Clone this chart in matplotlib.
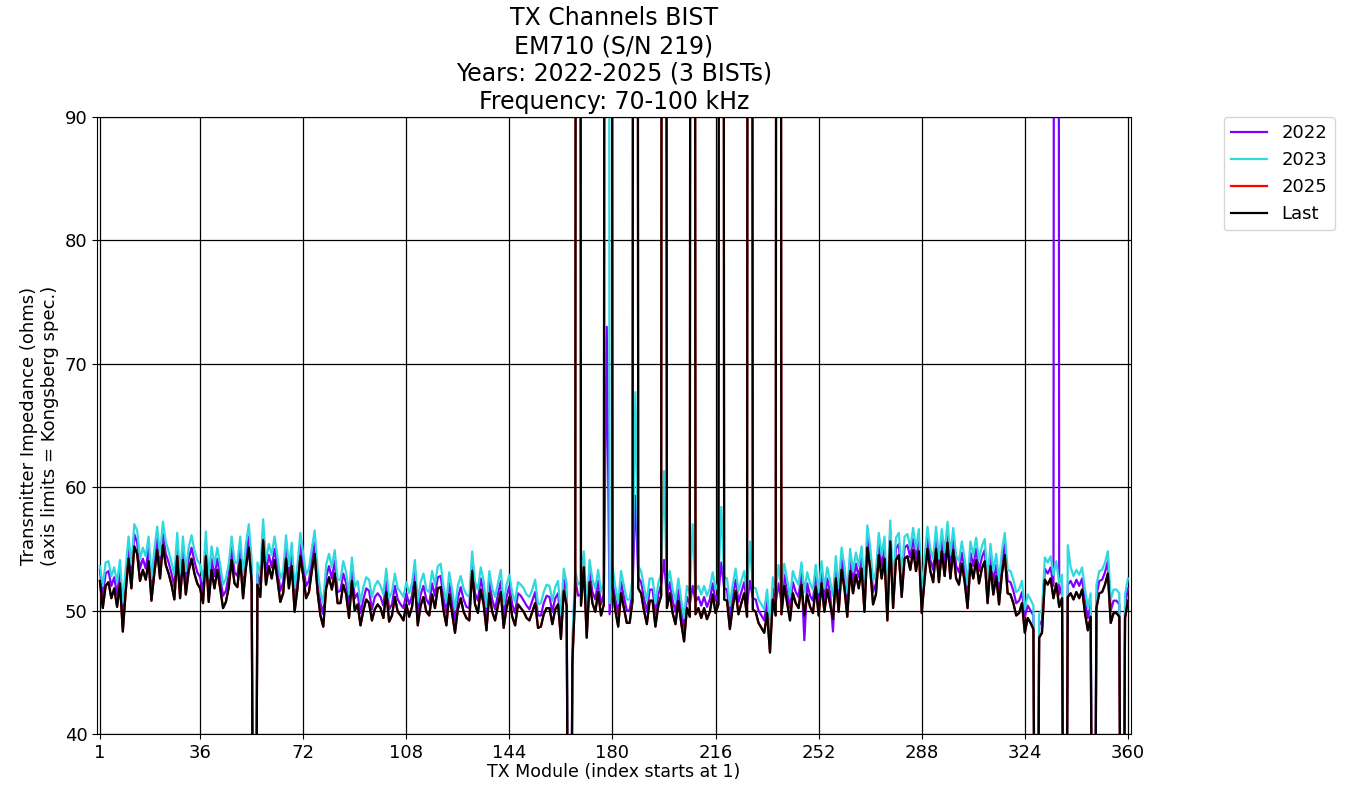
import numpy as np
import matplotlib
matplotlib.use("Agg")
import matplotlib.pyplot as plt

##! Data (ohms), modules 1..360
# 2025 BIST == "Last" (red trace sits under the black one)
y2025 = [
    52.4, 50.2, 52.0, 52.3, 51.0, 51.8, 50.3, 52.2, 48.3, 51.5,
    54.2, 51.8, 55.2, 54.6, 52.4, 53.3, 52.5, 54.0, 50.8, 53.0,
    54.9, 52.6, 55.3, 53.7, 53.0, 52.1, 50.9, 54.4, 51.0, 54.1,
    51.3, 53.2, 54.2, 53.0, 52.2, 51.8, 50.6, 54.4, 50.7, 53.3,
    51.8, 53.3, 51.8, 50.2, 50.7, 51.9, 54.1, 52.2, 51.9, 54.1,
    51.0, 53.5, 55.1, 52.3, 0.0, 52.1, 51.1, 55.7, 52.1, 53.6,
    52.6, 54.1, 52.5, 50.7, 51.4, 54.2, 51.8, 53.6, 49.9, 51.8,
    54.4, 52.8, 51.0, 51.5, 53.2, 54.6, 51.5, 49.6, 48.7, 51.8,
    52.7, 51.7, 53.0, 50.6, 50.6, 52.1, 51.3, 49.4, 52.4, 50.0,
    50.5, 48.8, 50.0, 50.9, 50.6, 49.2, 50.1, 50.5, 50.2, 49.4,
    51.5, 49.1, 49.6, 51.1, 49.9, 49.6, 49.2, 50.5, 49.5, 50.3,
    52.3, 48.8, 50.4, 51.1, 49.9, 49.6, 51.3, 50.2, 51.8, 51.9,
    50.0, 48.8, 51.3, 49.8, 48.2, 50.1, 51.0, 49.9, 49.4, 49.2,
    53.2, 50.5, 49.8, 51.7, 50.5, 48.4, 51.4, 49.9, 49.2, 50.4,
    51.5, 48.6, 50.2, 51.1, 49.5, 48.8, 50.5, 50.2, 49.9, 49.4,
    49.2, 49.9, 50.6, 48.6, 48.7, 49.7, 50.2, 50.2, 48.9, 50.1,
    50.5, 47.7, 51.6, 50.4, 0.0, 45.8, 51.6, 400.0, 50.4, 53.5,
    47.8, 52.3, 50.6, 49.9, 51.5, 49.6, 50.5, 400.0, 400.0, 51.8,
    50.0, 48.7, 51.4, 50.2, 49.0, 49.0, 50.8, 400.0, 51.8, 51.4,
    50.0, 48.9, 50.8, 50.8, 48.7, 50.4, 51.2, 400.0, 50.2, 51.4,
    49.8, 48.9, 50.8, 49.0, 47.5, 50.2, 49.5, 400.0, 49.7, 50.2,
    49.4, 50.2, 49.3, 49.9, 51.3, 49.8, 50.5, 400.0, 50.9, 50.8,
    48.5, 50.3, 51.6, 49.7, 50.6, 51.4, 49.5, 400.0, 50.1, 49.9,
    49.0, 48.6, 48.2, 49.8, 46.6, 50.9, 49.6, 400.0, 49.7, 52.0,
    50.6, 49.2, 51.4, 50.6, 50.2, 52.1, 49.6, 51.3, 50.3, 49.8,
    51.9, 49.6, 52.2, 49.9, 51.7, 50.5, 49.3, 52.6, 49.9, 53.3,
    51.8, 49.5, 53.2, 51.4, 52.9, 51.8, 53.4, 49.9, 55.1, 53.4,
    50.5, 51.3, 54.5, 52.6, 54.2, 49.2, 55.6, 50.2, 54.1, 54.5,
    51.1, 54.2, 54.4, 53.3, 54.9, 53.2, 54.8, 49.8, 52.5, 55.0,
    53.2, 52.3, 55.0, 52.3, 54.8, 52.8, 55.5, 52.6, 54.9, 52.6,
    52.1, 53.8, 52.3, 50.2, 53.8, 52.6, 54.1, 52.2, 53.4, 54.0,
    50.6, 53.6, 51.3, 52.8, 50.5, 53.0, 54.5, 51.4, 51.3, 50.6,
    49.6, 49.8, 50.6, 48.2, 49.4, 49.0, 48.5, 0.0, 47.8, 48.2,
    52.5, 52.1, 52.6, 51.0, 52.2, 50.3, 51.0, 0.0, 51.1, 51.4,
    50.9, 51.5, 51.0, 51.7, 49.8, 48.4, 49.5, 0.0, 50.2, 51.4,
    51.5, 52.1, 53.0, 49.0, 49.8, 49.8, 49.5, 0.0, 49.4, 50.8,
]

y2023 = [
    53.6, 52.0, 53.9, 54.0, 52.8, 53.5, 52.3, 54.1, 50.6, 53.4,
    56.0, 53.7, 57.0, 56.5, 54.2, 55.1, 54.4, 56.0, 52.6, 54.9,
    56.8, 54.5, 57.2, 55.6, 54.8, 53.9, 52.9, 56.3, 52.9, 56.0,
    53.2, 55.1, 56.1, 54.9, 54.1, 53.7, 52.5, 56.4, 52.6, 55.2,
    53.7, 55.1, 53.7, 52.1, 52.6, 53.8, 56.0, 54.0, 53.8, 56.0,
    52.9, 55.4, 57.0, 54.1, 0.0, 53.9, 53.0, 57.4, 54.0, 55.4,
    54.5, 56.0, 54.4, 52.6, 53.2, 56.1, 53.6, 55.5, 51.8, 53.7,
    56.3, 54.6, 52.9, 53.4, 55.0, 56.5, 53.4, 51.5, 50.6, 53.7,
    54.6, 53.5, 54.9, 52.5, 52.5, 54.0, 53.1, 51.3, 54.3, 51.9,
    52.4, 50.7, 51.9, 52.7, 52.5, 51.1, 52.0, 52.4, 52.0, 51.3,
    53.4, 51.0, 51.5, 53.0, 51.8, 51.5, 51.1, 52.3, 51.4, 52.2,
    54.1, 50.7, 52.3, 53.0, 51.7, 51.5, 53.2, 52.1, 53.6, 53.8,
    51.9, 50.7, 53.1, 51.7, 50.1, 52.0, 52.8, 51.8, 51.3, 51.1,
    54.8, 52.3, 51.7, 53.5, 52.4, 50.3, 53.2, 51.8, 51.1, 52.2,
    53.3, 50.5, 52.1, 52.9, 51.4, 50.7, 52.3, 52.1, 51.8, 51.3,
    51.1, 51.7, 52.5, 50.5, 50.6, 51.5, 52.1, 52.0, 50.8, 51.9,
    52.4, 49.6, 53.4, 52.2, 0.0, 47.7, 53.3, 52.1, 52.3, 54.8,
    49.7, 54.1, 52.5, 51.8, 53.3, 51.5, 52.3, 400.0, 50.6, 53.6,
    51.9, 50.6, 53.2, 52.0, 50.9, 50.9, 52.6, 67.7, 53.6, 53.2,
    51.9, 50.8, 52.6, 52.6, 50.6, 52.2, 53.0, 61.3, 52.0, 53.2,
    51.7, 50.8, 52.6, 50.9, 49.4, 52.0, 51.4, 57.0, 51.6, 52.0,
    51.3, 52.0, 51.2, 51.8, 53.1, 51.7, 52.3, 58.4, 52.7, 52.6,
    50.4, 52.1, 53.4, 51.6, 52.4, 53.2, 51.4, 55.6, 51.9, 51.8,
    50.9, 50.5, 50.1, 51.7, 48.5, 52.7, 51.5, 53.7, 51.6, 53.8,
    52.5, 51.1, 53.2, 52.5, 52.1, 53.9, 51.5, 53.1, 52.2, 51.7,
    53.7, 51.5, 54.0, 51.8, 53.5, 52.4, 51.2, 54.4, 51.8, 55.1,
    53.6, 51.4, 55.0, 53.2, 54.7, 53.6, 55.2, 51.8, 56.9, 55.2,
    52.4, 53.2, 56.3, 54.5, 56.0, 51.1, 57.3, 52.1, 55.9, 56.3,
    53.0, 56.0, 56.2, 55.1, 56.7, 55.0, 56.6, 51.7, 54.3, 56.8,
    55.0, 54.2, 56.8, 54.2, 56.6, 54.7, 57.2, 54.5, 56.7, 54.5,
    54.0, 55.6, 54.2, 52.1, 55.6, 54.5, 55.9, 54.1, 55.2, 55.8,
    52.5, 55.4, 53.2, 54.6, 52.4, 54.8, 56.3, 53.3, 53.2, 52.5,
    51.5, 51.7, 52.4, 50.1, 51.3, 50.9, 50.4, 0.0, 49.7, 50.1,
    54.3, 53.9, 54.4, 52.9, 54.0, 52.2, 52.9, 0.0, 55.3, 53.5,
    52.8, 53.3, 52.9, 53.5, 51.7, 50.3, 51.4, 0.0, 52.1, 53.2,
    53.3, 53.9, 54.8, 50.9, 51.7, 51.7, 51.4, 0.0, 51.3, 52.6,
]

y2022 = [
    53.3, 51.2, 53.0, 53.2, 52.0, 52.7, 51.3, 53.1, 49.4, 52.5,
    55.2, 52.8, 56.2, 55.5, 53.4, 54.2, 53.4, 55.0, 51.8, 54.0,
    55.8, 53.5, 56.2, 54.6, 53.9, 53.0, 51.9, 55.3, 51.9, 55.0,
    52.2, 54.2, 55.1, 54.0, 53.1, 52.7, 51.5, 55.4, 51.6, 54.2,
    52.8, 54.2, 52.7, 51.2, 51.6, 52.9, 55.1, 53.1, 52.8, 55.0,
    52.0, 54.4, 56.0, 53.2, 0.0, 53.0, 52.1, 56.6, 53.1, 54.5,
    53.5, 55.0, 53.5, 51.6, 52.3, 55.1, 52.8, 54.5, 50.9, 52.8,
    55.3, 53.7, 52.0, 52.4, 54.1, 55.5, 52.4, 50.6, 49.7, 52.7,
    53.6, 52.6, 54.0, 51.5, 51.6, 53.0, 52.2, 50.4, 53.3, 51.0,
    51.4, 49.8, 50.9, 51.8, 51.6, 50.1, 51.1, 51.4, 51.1, 50.4,
    52.4, 50.1, 50.5, 52.0, 50.9, 50.5, 50.2, 51.4, 50.5, 51.2,
    53.2, 49.8, 51.3, 52.0, 50.9, 50.5, 52.2, 51.2, 52.7, 52.8,
    51.0, 49.8, 52.2, 50.8, 49.2, 51.0, 51.9, 50.9, 50.3, 50.2,
    54.0, 51.4, 50.8, 52.6, 51.4, 49.4, 52.3, 50.9, 50.1, 51.3,
    52.4, 49.6, 51.1, 52.0, 50.5, 49.8, 51.4, 51.2, 50.8, 50.4,
    50.1, 50.8, 51.5, 49.6, 49.6, 50.6, 51.2, 51.1, 49.9, 51.0,
    51.4, 48.7, 52.5, 51.3, 0.0, 46.8, 52.5, 51.2, 51.3, 54.4,
    48.8, 53.2, 51.5, 50.9, 52.4, 50.5, 51.4, 73.0, 49.7, 52.7,
    51.0, 49.7, 52.3, 51.1, 50.0, 50.0, 51.7, 59.3, 52.7, 52.3,
    51.0, 49.9, 51.7, 51.7, 49.7, 51.3, 52.1, 54.1, 51.1, 52.3,
    50.8, 49.9, 51.7, 50.0, 48.5, 51.1, 50.5, 52.0, 50.7, 51.1,
    50.4, 51.1, 50.3, 50.9, 52.2, 50.8, 51.4, 53.9, 51.8, 51.7,
    49.5, 51.2, 52.5, 50.7, 51.5, 52.3, 50.5, 52.4, 51.0, 50.9,
    50.0, 49.6, 49.2, 50.8, 47.6, 51.8, 50.6, 52.2, 50.7, 52.9,
    51.5, 50.2, 52.3, 51.5, 51.1, 53.0, 47.6, 52.2, 51.2, 50.8,
    52.8, 50.6, 53.1, 50.9, 52.6, 51.4, 48.3, 53.5, 50.9, 54.2,
    52.7, 50.5, 54.1, 52.3, 53.8, 52.7, 54.3, 50.9, 56.0, 54.3,
    51.5, 52.2, 55.4, 53.6, 55.1, 50.2, 56.5, 51.2, 55.0, 55.4,
    52.1, 55.1, 55.3, 54.3, 55.8, 54.2, 55.7, 50.8, 53.5, 55.9,
    54.1, 53.3, 55.9, 53.3, 55.7, 53.8, 56.4, 53.6, 55.8, 53.6,
    53.1, 54.7, 53.3, 51.2, 54.7, 53.6, 55.0, 53.2, 54.3, 54.9,
    51.6, 54.5, 52.3, 53.7, 51.5, 54.0, 55.4, 52.4, 52.3, 51.6,
    50.6, 50.8, 51.5, 49.5, 50.4, 50.0, 49.6, 0.0, 48.8, 49.2,
    53.4, 53.0, 53.5, 52.0, 400.0, 51.3, 52.0, 0.0, 52.1, 52.4,
    51.9, 52.5, 52.0, 52.6, 50.8, 49.4, 50.5, 0.0, 51.2, 52.4,
    52.5, 53.1, 54.0, 50.0, 50.8, 50.8, 50.5, 0.0, 50.4, 51.8,
]

yLast = y2025

series  = [y2022, y2023, y2025, yLast]
labels  = ['2022', '2023', '2025', 'Last']
colours = ['#8000ff', '#2fd8de', '#ff0000', 'k']

xticks = [1, 36, 72, 108, 144, 180, 216, 252, 288, 324, 360]
yticks = [40, 50, 60, 70, 80, 90]

for s in series:
    assert len(s) == 360, len(s)
module = np.arange(1, 361)

##! Plot
fig = plt.figure(figsize=(13.46, 7.85), dpi=100)
ax = fig.add_axes([0.0721, 0.065, 0.768, 0.786])

for s, lab, c in zip(series, labels, colours):
    ax.plot(module, s, color=c, linewidth=1.6, label=lab)

ax.set_xlim(0, 361)
ax.set_ylim(40, 90)
ax.set_xticks(xticks)
ax.set_yticks(yticks)
ax.tick_params(labelsize=13)
ax.grid(True, color='k', linewidth=0.9)
ax.set_axisbelow(True)

ax.set_xlabel('TX Module (index starts at 1)', fontsize=12.5, labelpad=1)
ax.set_ylabel('Transmitter Impedance (ohms)\n(axis limits = Kongsberg spec.)', fontsize=13)
ax.set_title('TX Channels BIST\nEM710 (S/N 219)\nYears: 2022-2025 (3 BISTs)\nFrequency: 70-100 kHz',
             fontsize=17, pad=6)
ax.legend(loc='upper left', bbox_to_anchor=(1.09, 1.0), borderaxespad=0, fontsize=13)

fig.savefig('out.png', dpi=100)
plt.close(fig)
